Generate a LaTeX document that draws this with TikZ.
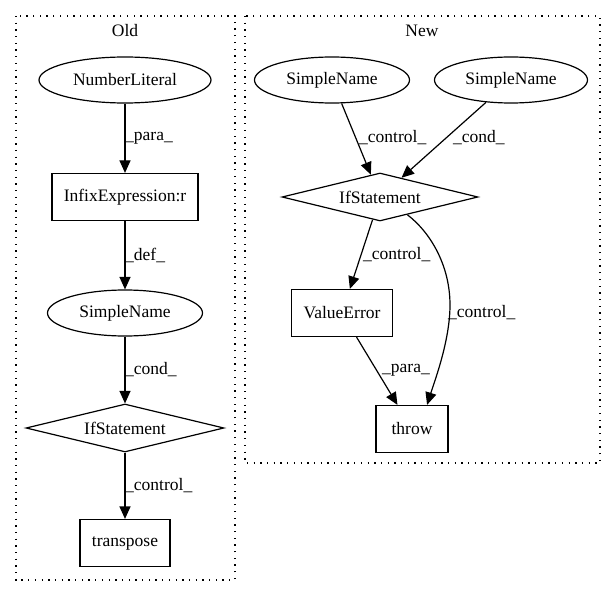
\documentclass[tikz,border=0pt]{standalone}
\usepackage{fontspec}
\setmainfont{Liberation Serif}
\usetikzlibrary{shapes.geometric,arrows.meta}
\begin{document}
\begin{tikzpicture}[x=1pt,y=-1pt,
  every node/.style={font=\fontsize{17.5}{20}\selectfont},
  ell/.style={draw, ellipse, inner sep=0pt, minimum width=155pt, minimum height=46pt, line width=1.2pt},
  box/.style={draw, rectangle, inner sep=0pt, minimum height=47pt, line width=1.2pt},
  dia/.style={draw, diamond, aspect=4, inner sep=0pt, minimum width=198pt, minimum height=48pt, line width=1.2pt},
  arr/.style={line width=1.2pt, -{Triangle[length=12.5pt,width=11pt]}},
  lbl/.style={anchor=west, inner sep=0pt},
  clus/.style={line width=1.3pt, dash pattern=on 1.3pt off 5.4pt},
  ttl/.style={inner sep=0pt}]
\useasboundingbox (0,0) rectangle (616,596);

% clusters
\draw[clus] (16,16) rectangle (235,580);
\draw[clus] (245,16) rectangle (600,463);
\node[ttl] (told) at (125,31) {Old};
\node[ttl] (tnew) at (422,31) {New};

% Old
\node[ell, minimum width=172pt] (nl) at (125,80) {NumberLiteral};
\node[box, minimum width=146pt] (infix) at (125,197) {InfixExpression:r};
\node[ell] (sno) at (125,313) {SimpleName};
\node[dia] (ifo) at (125,428) {IfStatement};
\node[box, minimum width=90pt] (tr) at (125,543) {transpose};

\draw[arr] (nl) -- (infix);
\draw[arr] (infix) -- (sno);
\draw[arr] (sno) -- (ifo);
\draw[arr] (ifo) -- (tr);
\node[lbl] (lo1) at (125,138) {\_para\_};
\node[lbl] (lo2) at (125,255) {\_def\_};
\node[lbl] (lo3) at (125,370) {\_cond\_};
\node[lbl] (lo4) at (125,486) {\_control\_};

% New
\node[ell] (sn1) at (332,80) {SimpleName};
\node[ell, minimum width=153pt] (sn2) at (511,80) {SimpleName};
\node[dia, minimum width=196pt] (ifn) at (380,197) {IfStatement};
\node[box, minimum width=101pt] (ve) at (342,313) {ValueError};
\node[box, minimum width=72pt] (th) at (412,429) {throw};

\draw[arr] (sn1) -- (ifn);
\draw[arr] (sn2) -- (ifn);
\draw[arr] (ifn) -- (ve);
\draw[arr] (ve) -- (th);
\draw[arr] (ifn.-33) .. controls (430,232) and (450,265) .. (450,305)
  .. controls (450,340) and (435,380) .. (th.58);

\node[lbl] (ln1) at (359,138) {\_control\_};
\node[lbl] (ln2) at (453,138) {\_cond\_};
\node[lbl] (ln3) at (363,255) {\_control\_};
\node[lbl] (ln4) at (448,313) {\_control\_};
\node[lbl] (ln5) at (382,370) {\_para\_};
\end{tikzpicture}
\end{document}
